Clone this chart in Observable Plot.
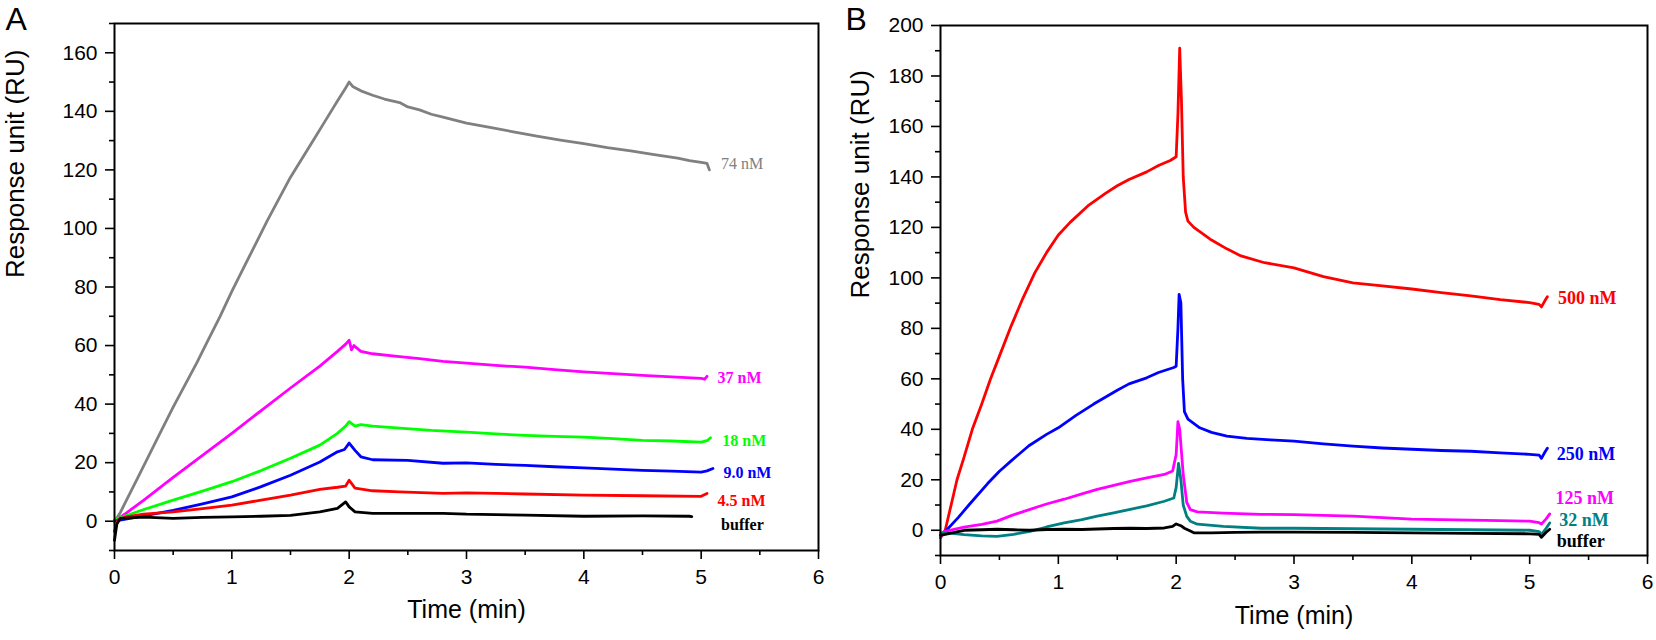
<!DOCTYPE html>
<html><head><meta charset="utf-8">
<script src="https://cdn.jsdelivr.net/npm/d3@7"></script>
<script src="https://cdn.jsdelivr.net/npm/@observablehq/plot@0.6"></script>
<style>
body{margin:0;background:#fff;}
#wrap{position:relative;width:1656px;height:640px;overflow:hidden;}
#pa{position:absolute;left:0;top:0;}
#pb{position:absolute;left:828px;top:0;}
</style></head><body><div id="wrap"><div id="pa"></div><div id="pb"></div></div>
<script>
// ---------- Panel A data: [time (min), response (RU)] ----------
const seriesA = ["74 nM", "37 nM", "18 nM", "9.0 nM", "4.5 nM", "buffer"];
const colorsA = ["#808080", "#ff00ff", "#00ff00", "#0000ff", "#ff0000", "#000000"];
const a74 = [[0,0],[0.05,3],[0.1,7],[0.2,15],[0.3,23],[0.4,31],[0.5,39],[0.6,46.5],[0.7,54],[0.8,62],[0.9,70],[1.0,78.5],[1.1,86.5],[1.2,94.5],[1.3,102.5],[1.4,110],[1.5,117.5],[1.6,124],[1.7,130.5],[1.8,137],[1.9,143.5],[1.97,148],[2.0,150],[2.03,148.5],[2.1,147],[2.2,145.5],[2.3,144.2],[2.43,143],[2.5,141.5],[2.6,140.5],[2.7,139],[2.8,138],[2.9,137],[3.0,136],[3.2,134.5],[3.4,133],[3.6,131.5],[3.8,130.2],[4.0,129],[4.2,127.6],[4.4,126.5],[4.6,125.2],[4.8,124],[4.9,123.2],[5.0,122.6],[5.05,122.2],[5.07,120]];
const a37 = [[0,0],[0.1,2.8],[0.25,7.2],[0.5,15],[0.75,22.5],[1.0,30],[1.25,37.8],[1.5,45.5],[1.75,53],[1.9,58],[1.97,60.5],[2.0,61.8],[2.02,58.5],[2.04,60],[2.1,58],[2.2,57.2],[2.43,56.2],[2.6,55.5],[2.8,54.6],[3.0,54],[3.25,53.2],[3.5,52.6],[3.75,51.8],[4.0,51],[4.25,50.4],[4.5,49.8],[4.75,49.3],[5.0,48.8],[5.03,48.5],[5.05,49.5]];
const a18 = [[0,0.5],[0.25,4],[0.5,7.2],[0.75,10.3],[1.0,13.5],[1.25,17.3],[1.5,21.5],[1.75,26],[1.9,30],[1.97,32.5],[2.0,34],[2.05,32.5],[2.1,33],[2.2,32.5],[2.43,31.8],[2.7,31],[3.0,30.4],[3.25,29.8],[3.5,29.3],[3.75,29],[4.0,28.7],[4.25,28.2],[4.5,27.6],[4.75,27.4],[5.0,27],[5.05,27.5],[5.08,28.5]];
const a9 = [[0,0],[0.25,1.8],[0.5,3.7],[0.75,5.9],[1.0,8.3],[1.25,11.8],[1.5,15.7],[1.75,20.2],[1.9,23.7],[1.96,24.5],[2.0,26.7],[2.05,24.2],[2.1,22],[2.2,21],[2.5,20.8],[2.8,19.8],[3.0,19.9],[3.25,19.4],[3.5,19.1],[3.75,18.6],[4.0,18.2],[4.25,17.8],[4.5,17.4],[4.75,17.1],[5.0,16.8],[5.05,17.2],[5.1,18]];
const a45 = [[0,-3.5],[0.03,0.5],[0.1,1.5],[0.25,2.4],[0.5,3.2],[0.75,4.3],[1.0,5.5],[1.25,7.2],[1.5,8.9],[1.75,10.9],[1.9,11.6],[1.97,12],[2.0,14],[2.05,11.3],[2.2,10.4],[2.43,10],[2.8,9.5],[3.0,9.7],[3.5,9.3],[4.0,8.9],[4.5,8.7],[5.0,8.5],[5.05,9.5]];
const aBuf = [[0,-6.5],[0.02,-1],[0.05,1],[0.25,1.4],[0.5,1],[0.75,1.3],[1.0,1.5],[1.25,1.7],[1.5,2],[1.75,3.2],[1.9,4.4],[1.97,6.6],[2.0,4.9],[2.05,3.2],[2.2,2.7],[2.5,2.7],[2.8,2.7],[3.0,2.4],[3.5,2.1],[4.0,1.7],[4.5,1.8],[4.9,1.7],[4.92,1.6]];
const pointsA = [a74, a37, a18, a9, a45, aBuf];
const labelXA = [5.17, 5.14, 5.18, 5.19, 5.14, 5.17];
const labelYA = [122.2, 49.1, 27.6, 16.4, 6.8, -1.4];

// ---------- Panel B data ----------
const seriesB = ["500 nM", "250 nM", "125 nM", "32 nM", "buffer"];
const colorsB = ["#ff0000", "#0000ff", "#ff00ff", "#008080", "#000000"];
const b500 = [[0,-3],[0.04,0],[0.1,12],[0.14,20],[0.2,29],[0.27,40],[0.35,50],[0.425,60],[0.5,69],[0.6,81],[0.7,92],[0.8,102],[0.9,110],[1.0,117],[1.1,122],[1.25,128.5],[1.4,133.5],[1.5,136.5],[1.6,139],[1.75,142],[1.85,144.5],[1.95,146.5],[2.0,148],[2.015,165],[2.03,191],[2.045,170],[2.06,140],[2.08,126],[2.1,122.5],[2.15,120],[2.23,117.3],[2.3,115],[2.43,111.5],[2.55,108.7],[2.75,106],[3.0,104],[3.25,100.5],[3.5,98],[3.75,96.8],[4.0,95.6],[4.25,94.2],[4.5,92.9],[4.75,91.4],[5.0,90.2],[5.08,89.5],[5.1,88.5],[5.13,91],[5.15,92.5]];
const b250 = [[0,-2],[0.05,0],[0.15,5],[0.25,10.5],[0.4,18.5],[0.5,23.4],[0.6,27.5],[0.75,33.5],[0.9,38],[1.0,40.6],[1.15,45.5],[1.3,50],[1.5,55.5],[1.6,58],[1.75,60.4],[1.85,62.5],[1.98,64.5],[2.0,65],[2.015,80],[2.025,93.5],[2.04,90],[2.055,60],[2.07,47],[2.1,44],[2.2,40.6],[2.3,38.8],[2.43,37.3],[2.6,36.4],[2.8,35.8],[3.0,35.3],[3.25,34.2],[3.5,33.3],[3.75,32.6],[4.0,32.1],[4.25,31.6],[4.5,31.3],[4.75,30.7],[5.0,30.1],[5.08,29.8],[5.1,28.5],[5.13,31],[5.15,32.5]];
const b125 = [[0,-3],[0.03,-0.5],[0.2,1.2],[0.35,2.3],[0.48,3.6],[0.6,5.8],[0.76,8.3],[0.9,10.4],[1.05,12.3],[1.2,14.4],[1.33,16.2],[1.47,17.8],[1.61,19.4],[1.75,20.8],[1.9,22.1],[1.97,23.5],[2.0,30],[2.015,43],[2.03,40],[2.06,22],[2.09,11],[2.12,8.2],[2.18,7.3],[2.4,6.8],[2.72,6.3],[3.0,6.2],[3.25,5.9],[3.5,5.6],[3.75,5.0],[4.0,4.4],[4.25,4.2],[4.5,4.0],[4.75,3.8],[5.0,3.6],[5.08,3.0],[5.1,2.5],[5.14,4.5],[5.17,6.5]];
const b32 = [[0,-1],[0.1,-1.2],[0.2,-1.7],[0.35,-2.2],[0.48,-2.4],[0.62,-1.6],[0.76,-0.4],[0.9,1.3],[1.05,2.9],[1.2,4.2],[1.33,5.6],[1.47,6.9],[1.61,8.3],[1.75,9.7],[1.9,11.5],[1.98,12.8],[2.0,17],[2.02,26.5],[2.04,20],[2.06,10],[2.09,5.5],[2.12,3.6],[2.18,2.4],[2.4,1.5],[2.72,0.8],[3.0,0.8],[3.5,0.6],[4.0,0.4],[4.5,0.2],[5.0,0.0],[5.08,-0.5],[5.1,-1.6],[5.14,0.8],[5.17,2.9]];
const bBuf = [[0,-2],[0.05,-1.5],[0.2,0],[0.35,0.2],[0.48,0.4],[0.62,0.2],[0.76,0],[0.9,0.3],[1.05,0.4],[1.2,0.3],[1.33,0.5],[1.47,0.7],[1.61,0.8],[1.75,0.7],[1.9,0.9],[1.97,1.5],[2.0,2.5],[2.04,1.8],[2.07,0.8],[2.12,-0.3],[2.15,-1],[2.3,-1],[2.5,-0.8],[2.72,-0.7],[3.0,-0.7],[3.5,-0.8],[4.0,-1],[4.5,-1.2],[5.0,-1.4],[5.08,-1.6],[5.1,-2.8],[5.14,-0.8],[5.17,0.4]];
const pointsB = [b500, b250, b125, b32, bBuf];
const labelXB = [5.24, 5.23, 5.22, 5.25, 5.23];
const labelYB = [92.1, 30.2, 12.7, 4.0, -4.4];

// ---------- axis ticks ----------
const xMajor = [0, 1, 2, 3, 4, 5, 6];
const xMinor = [0.5, 1.5, 2.5, 3.5, 4.5, 5.5];
const yMajorA = [0, 20, 40, 60, 80, 100, 120, 140, 160];
const yMinorA = [-10, 10, 30, 50, 70, 90, 110, 130, 150, 170];
const yMajorB = [0, 20, 40, 60, 80, 100, 120, 140, 160, 180, 200];
const yMinorB = [-10, 10, 30, 50, 70, 90, 110, 130, 150, 170, 190];

function panel(cfg) {
  const rows = [];
  cfg.series.forEach((s, i) => cfg.points[i].forEach(([t, r]) => rows.push({s, t, r})));
  const labels = cfg.series.map((s, i) => ({s, t: cfg.labelX[i], r: cfg.labelY[i], bold: cfg.bold[i]}));
  const sans = "'Liberation Sans', Arial, sans-serif";
  const serif = "'Liberation Serif', 'Times New Roman', serif";
  const intFmt = d => String(d);
  return Plot.plot({
    width: 828, height: 640,
    marginLeft: cfg.ml, marginRight: cfg.mr, marginTop: cfg.mt, marginBottom: cfg.mb,
    x: {domain: [0, 6]},
    y: {domain: cfg.ydomain},
    color: {domain: cfg.series, range: cfg.colors},
    style: {fontFamily: sans, fontSize: "21px", color: "black", background: "white", overflow: "visible"},
    marks: [
      Plot.axisX({ticks: xMinor, tickSize: 5, tickFormat: () => "", label: null, strokeWidth: 1.6}),
      Plot.axisX({ticks: xMajor, tickSize: 9, tickPadding: 10, tickFormat: intFmt, fontSize: 21, label: null, strokeWidth: 1.6}),
      Plot.axisY({ticks: cfg.yMinor, tickSize: 5, tickFormat: () => "", label: null, strokeWidth: 1.6}),
      Plot.axisY({ticks: cfg.yMajor, tickSize: 9, tickPadding: 8, tickFormat: intFmt, fontSize: 21, label: null, strokeWidth: 1.6}),
      Plot.line(rows, {x: "t", y: "r", z: "s", stroke: "s", strokeWidth: 2.8, strokeLinejoin: "round"}),
      Plot.text(labels.filter(d => d.bold), {x: "t", y: "r", text: "s", fill: "s", textAnchor: "start", fontFamily: serif, fontWeight: "bold", fontSize: cfg.labelSize}),
      Plot.text(labels.filter(d => !d.bold), {x: "t", y: "r", text: "s", fill: "s", textAnchor: "start", fontFamily: serif, fontSize: cfg.labelSize}),
      Plot.frame({stroke: "black", strokeWidth: 2}),
      Plot.text(["Response unit (RU)"], {text: d => d, frameAnchor: "left", rotate: -90, dx: cfg.ytDx, dy: cfg.ytDy, fontSize: 26}),
      Plot.text(["Time (min)"], {text: d => d, frameAnchor: "bottom", dy: cfg.xtDy, fontSize: 25}),
      Plot.text([cfg.letter], {text: d => d, frameAnchor: "top-left", textAnchor: "start", lineAnchor: "top", dx: cfg.lDx, dy: cfg.lDy, fontSize: 32})
    ]
  });
}

document.getElementById("pa").append(panel({
  series: seriesA, colors: colorsA, points: pointsA, labelX: labelXA, labelY: labelYA,
  bold: [false, true, true, true, true, true], labelSize: 16,
  ml: 114, mr: 10, mt: 23, mb: 90, ydomain: [-10, 170], yMajor: yMajorA, yMinor: yMinorA,
  ytDx: -99, ytDy: -9, xtDy: 67, letter: "A", lDx: -109, lDy: -16
}));
document.getElementById("pb").append(panel({
  series: seriesB, colors: colorsB, points: pointsB, labelX: labelXB, labelY: labelYB,
  bold: [true, true, true, true, true], labelSize: 18,
  ml: 112, mr: 9, mt: 25, mb: 85, ydomain: [-10, 200], yMajor: yMajorB, yMinor: yMinorB,
  ytDx: -80, ytDy: 8, xtDy: 68, letter: "B", lDx: -95, lDy: -18
}));
</script>
</body></html>
